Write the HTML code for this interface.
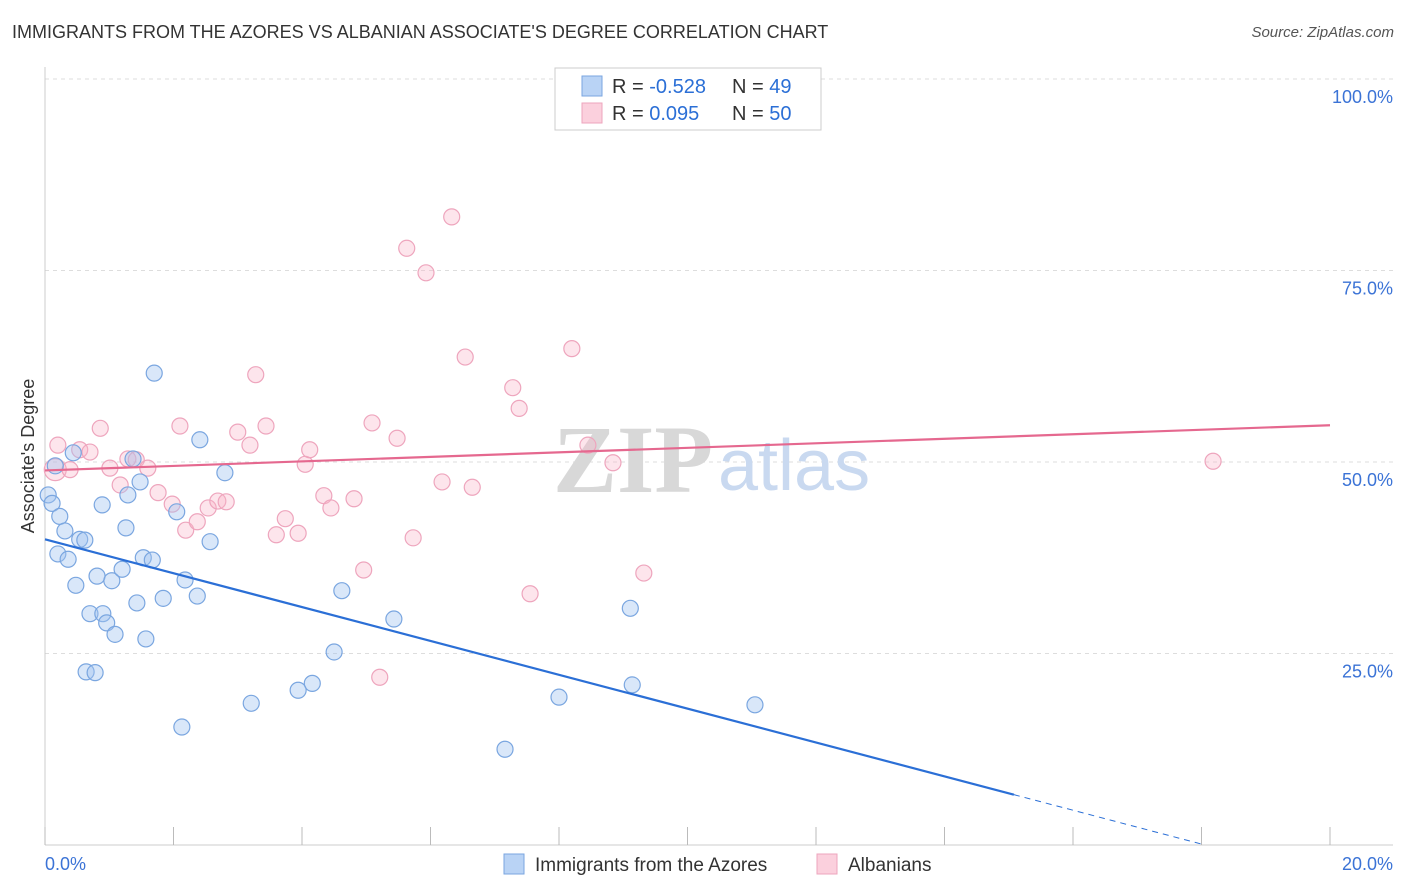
<!DOCTYPE html>
<html><head><meta charset="utf-8">
<style>
body{margin:0;background:#fff;font-family:"Liberation Sans",sans-serif;}
#wrap{position:relative;width:1406px;height:892px;overflow:hidden;}
.t{position:absolute;white-space:nowrap;}
</style></head>
<body>
<div id="wrap">
<div class="t" style="left:12px;top:22px;font-size:18px;color:#333;">IMMIGRANTS FROM THE AZORES VS ALBANIAN ASSOCIATE'S DEGREE CORRELATION CHART</div>
<div class="t" style="right:12px;top:24px;font-size:15px;color:#555;font-style:italic;">Source: ZipAtlas.com</div>
<svg id="chart" width="1406" height="892" style="position:absolute;left:0;top:0"></svg>
</div>
<script>
const blueX=[0.05,0.11,0.16,0.23,0.31,0.20,0.36,0.44,0.48,0.54,0.62,0.64,0.70,0.78,0.81,0.89,0.90,0.96,1.04,1.09,1.20,1.26,1.29,1.37,1.43,1.48,1.53,1.57,1.67,1.70,1.84,2.05,2.13,2.18,2.37,2.41,2.57,2.80,3.21,3.94,4.16,4.50,4.62,5.43,7.16,8.00,9.11,9.14,11.05];
const blueY=[45.7,44.6,49.5,42.9,41.0,38.0,37.3,51.2,33.9,39.9,39.8,22.6,30.2,22.5,35.1,44.4,30.2,29.0,34.5,27.5,36.0,41.4,45.7,50.4,31.6,47.4,37.5,26.9,37.2,61.6,32.2,43.5,15.4,34.6,32.5,52.9,39.6,48.6,18.5,20.2,21.1,25.2,33.2,29.5,12.5,19.3,30.9,20.9,18.3];
const pinkX=[0.16,0.20,0.39,0.54,0.70,0.86,1.01,1.17,1.29,1.42,1.60,1.76,1.98,2.10,2.19,2.37,2.54,2.69,2.82,3.00,3.19,3.28,3.44,3.60,3.74,3.94,4.05,4.12,4.34,4.45,4.81,4.96,5.09,5.21,5.48,5.63,5.73,5.93,6.18,6.33,6.54,6.65,7.28,7.38,7.55,8.20,8.45,8.84,9.32,18.18];
const pinkY=[49.0,52.2,49.0,51.6,51.3,54.4,49.2,47.0,50.4,50.3,49.2,46.0,44.5,54.7,41.1,42.2,44.0,44.9,44.8,53.9,52.2,61.4,54.7,40.5,42.6,40.7,49.7,51.6,45.6,44.0,45.2,35.9,55.1,21.9,53.1,77.9,40.1,74.7,47.4,82.0,63.7,46.7,59.7,57.0,32.8,64.8,52.2,49.9,35.5,50.1];
const blueLine=[39.9,-2.21];
const pinkLine=[48.9,0.295];
const yTicks=[25,50,75,100];
const xTickCount=11;

const NS="http://www.w3.org/2000/svg";
const svg=document.getElementById('chart');
const X0=45,X1=1330,Y0=845,Y100=79;
const sx=v=>X0+(X1-X0)*v/20;
const sy=v=>Y0-(Y0-Y100)*v/100;
function mk(tag,attrs){const e=document.createElementNS(NS,tag);for(const k in attrs)e.setAttribute(k,attrs[k]);svg.appendChild(e);return e;}
// gridlines
yTicks.forEach(t=>{
 const g=mk('line',{x1:X0,x2:1393,y1:sy(t),y2:sy(t),stroke:'#ddd','stroke-dasharray':'4,4'});
 
 
 const tx=mk('text',{x:1393,y:sy(t)+24,'text-anchor':'end','font-size':18,fill:'#3b73d6','font-family':'Liberation Sans'});
 tx.textContent=t.toFixed(1)+'%';
 
 
});
let ax=mk('line',{x1:X0,x2:X0,y1:67,y2:Y0,stroke:'#ccc'});


ax=mk('line',{x1:X0,x2:1393,y1:Y0,y2:Y0,stroke:'#ccc'});


for(let i=0;i<xTickCount;i++){
 const x=sx(i*2);
 const tk=mk('line',{x1:x,x2:x,y1:827,y2:Y0,stroke:'#bbb'});
 
 
}
let xl=mk('text',{x:45,y:870,'font-size':18,fill:'#3b73d6','font-family':'Liberation Sans'});xl.textContent='0.0%';


xl=mk('text',{x:1393,y:870,'text-anchor':'end','font-size':18,fill:'#3b73d6','font-family':'Liberation Sans'});xl.textContent='20.0%';


const yt=mk('text',{x:34,y:456,'text-anchor':'middle','font-size':18,fill:'#333',transform:'rotate(-90 34 456)','font-family':'Liberation Sans'});
yt.textContent="Associate's Degree";


// watermark
const wm=mk('text',{x:553,y:492,'font-size':96,fill:'#d8d8d8','font-family':'Liberation Serif','font-weight':'bold'});wm.textContent='ZIP';


const wm2=mk('text',{x:718,y:490,'font-size':72,fill:'#c9d9f0','font-family':'Liberation Sans'});wm2.textContent='atlas';


// points
pinkX.forEach((v,i)=>{
 const c=mk('circle',{cx:sx(v),cy:sy(pinkY[i]),r:i==0?11:8,fill:'rgba(248,180,200,0.35)',stroke:'#eea5bd','stroke-width':1.2});
 
 
});
blueX.forEach((v,i)=>{
 const c=mk('circle',{cx:sx(v),cy:sy(blueY[i]),r:8,fill:'rgba(160,195,240,0.4)',stroke:'#7aa6e0','stroke-width':1.2});
 
 
});
// trend lines
const bEnd=15.08, bZero=-blueLine[0]/blueLine[1];
let l=mk('line',{x1:sx(0),y1:sy(blueLine[0]),x2:sx(bEnd),y2:sy(blueLine[0]+blueLine[1]*bEnd),stroke:'#2b6fd6','stroke-width':2.2});


l=mk('line',{x1:sx(bEnd),y1:sy(blueLine[0]+blueLine[1]*bEnd),x2:sx(bZero),y2:sy(0),stroke:'#2b6fd6','stroke-width':1,'stroke-dasharray':'6,5'});


l=mk('line',{x1:sx(0),y1:sy(pinkLine[0]),x2:sx(20),y2:sy(pinkLine[0]+pinkLine[1]*20),stroke:'#e5688f','stroke-width':2.2});


// legend box
const lb=mk('rect',{x:555,y:68,width:266,height:62,fill:'#fff',stroke:'#ccc'});


function legRow(y,fill,stroke,r,n,nm){
 const s=mk('rect',{x:582,y:y-10,width:20,height:20,fill:fill,stroke:stroke});
 
 
 const t=mk('text',{x:612,y:y+7,'font-size':20,fill:'#333','font-family':'Liberation Sans'});
 t.innerHTML='R = <tspan fill="#2b6fd6">'+r+'</tspan><tspan x="732">N = </tspan><tspan fill="#2b6fd6">'+n+'</tspan>';
 
 
}
legRow(86,'#b9d3f5','#7aa6e0',' -0.528','49','azores');
legRow(113,'#fbd0dd','#eea5bd','  0.095','50','albanians');
// bottom legend
function bl(x,fill,stroke,label,nm){
 const s=mk('rect',{x:x,y:854,width:20,height:20,fill:fill,stroke:stroke});
 
 
 const t=mk('text',{x:x+31,y:871,'font-size':19,fill:'#333','font-family':'Liberation Sans'});t.textContent=label;
 
 
}
bl(504,'#b9d3f5','#7aa6e0','Immigrants from the Azores','azores');
bl(817,'#fbd0dd','#eea5bd','Albanians','albanians');
</script>
</body></html>
